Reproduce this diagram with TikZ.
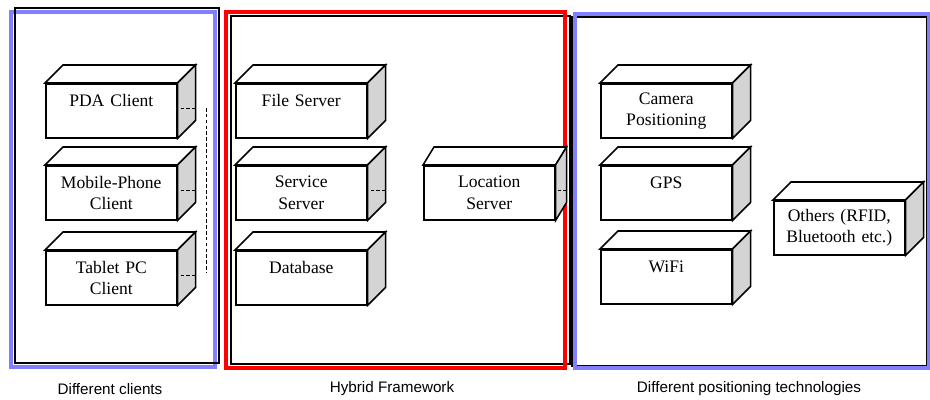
\documentclass[tikz,border=0pt]{standalone}
\usepackage{fontspec}
\setmainfont{Liberation Serif}
\setsansfont{Liberation Sans}

\definecolor{frameblue}{RGB}{128,128,255}
\definecolor{sidegray}{RGB}{212,212,212}

\tikzset{
  face/.style={draw, line width=1.3pt, fill=white, minimum width=3.93cm,
    minimum height=1.62cm, inner sep=0pt, text width=3.8cm, align=center,
    anchor=north west, font=\fontsize{15}{18}\selectfont},
  caption/.style={font=\sffamily\fontsize{13}{15}\selectfont},
  stub/.style={densely dashed, line width=0.6pt},
}

\begin{document}
\begin{tikzpicture}[x=0.03cm, y=-0.03cm]
\useasboundingbox (0,0) rectangle (930,400);

% the three frames
\draw[frameblue, line width=2.6pt] (11,12) rectangle (215,367);
\draw[line width=1.6pt] (15,8) rectangle (219,363);
\draw[line width=1.6pt] (231,16) rectangle (570,364);
\draw[red, line width=3pt] (226,12) rectangle (565,368);
\draw[line width=1.6pt] (572,17) rectangle (927,366);
\draw[frameblue, line width=2.6pt] (575,14) rectangle (929,368);

% front faces
\node[face] (pda) at (45,83) {PDA Client\\~};
\node[face] (phone) at (45,165) {Mobile-Phone\\Client};
\node[face] (tablet) at (45,250) {Tablet PC\\Client};
\node[face] (file) at (235,83) {File Server\\~};
\node[face] (service) at (235,165) {Service\\Server};
\node[face] (db) at (235,250) {Database\\~};
\node[face] (loc) at (423,165) {Location\\Server};
\node[face] (camera) at (600,83) {Camera\\Positioning};
\node[face] (gps) at (600,165) {GPS\\~};
\node[face] (wifi) at (600,249) {WiFi\\~};
\node[face] (others) at (773,200) {Others (RFID,\\Bluetooth etc.)};

% top and side of each block
\foreach \n/\d in {pda/18,phone/18,tablet/18,file/18,service/18,db/18,
                   loc/11,camera/18,gps/18,wifi/18,others/18}
{
  \draw[line width=1.3pt, fill=white] (\n.north west) -- ([shift={(\d,-18)}]\n.north west)
    -- ([shift={(\d,-18)}]\n.north east) -- (\n.north east) -- cycle;
  \draw[line width=1.3pt, fill=sidegray] (\n.north east) -- ([shift={(\d,-18)}]\n.north east)
    -- ([shift={(\d,-18)}]\n.south east) -- (\n.south east) -- cycle;
}

% client ports and bus
\foreach \n in {pda,phone,tablet}
  \draw[stub] ([shift={(3,-2)}]\n.east) -- ++(16,0);
\coordinate (bustop) at (206,108);
\coordinate (busbot) at (206,273);
\draw[stub] (bustop) -- (busbot);
\draw[stub] ([shift={(3,-2)}]service.east) -- ++(16,0);
\draw[stub] ([shift={(2,-2)}]loc.east) -- ++(9,0);

% captions
\node[caption] (capclients) at (110,389) {Different clients};
\node[caption] (capframe) at (392,389) {Hybrid Framework};
\node[caption] (cappos) at (749,389) {Different positioning technologies};
\end{tikzpicture}
\end{document}
